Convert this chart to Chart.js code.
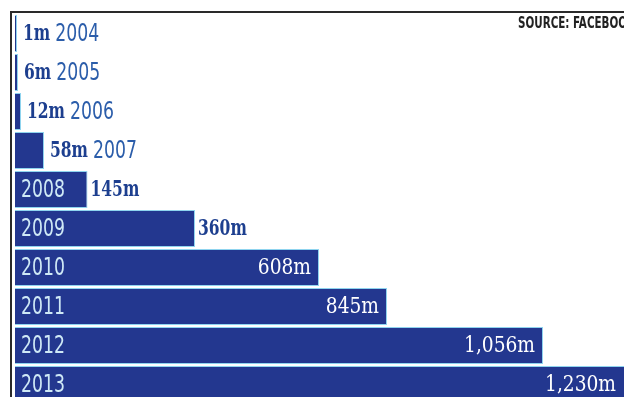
<!DOCTYPE html>
<html>
<head>
<meta charset="utf-8">
<script src="https://cdn.jsdelivr.net/npm/chart.js@4.4.1/dist/chart.umd.min.js"></script>
<style>
  html, body { margin: 0; padding: 0; background: #fff; overflow: hidden; }
  #wrap { position: relative; width: 624px; height: 404px; }
</style>
</head>
<body>
<div id="wrap"><canvas id="chart"></canvas></div>
<script>
const years = ["2004", "2005", "2006", "2007", "2008", "2009", "2010", "2011", "2012", "2013"];
// bar lengths as drawn in the graphic (the 2011 bar is drawn shorter than its 845m label)
const users = [1, 6, 12, 58, 145, 360, 608, 744, 1056, 1230];
const userLabels = ["1m", "6m", "12m", "58m", "145m", "360m", "608m", "845m", "1,056m", "1,230m"];
const sourceText = "SOURCE: FACEBOOK";

const BAR = "#23378f";
const EDGE = "#8fd4ef";
const SLAB = '"DejaVu Serif Condensed", "DejaVu Serif", serif';
const NARROW = '"DejaVu Sans Condensed", sans-serif';

//Dibuja texto estrechado en horizontal, devuelve el ancho
const drawText = (ctx, text, x, y, font, color, align, sx) => {
  ctx.save();
  ctx.font = font;
  ctx.fillStyle = color;
  ctx.textAlign = align;
  ctx.textBaseline = "middle";
  ctx.translate(x, y);
  ctx.scale(sx, 1);
  ctx.fillText(text, 0, 0);
  const w = ctx.measureText(text).width * sx;
  ctx.restore();
  return w;
};

//Textos de las barras y marco
const labelsPlugin = {
  id: "labels",
  beforeDraw(chart) {
    const ctx = chart.ctx;
    ctx.save();
    ctx.fillStyle = "#fff";
    ctx.fillRect(0, 0, chart.width, chart.height);
    ctx.restore();
  },
  afterDatasetsDraw(chart) {
    const ctx = chart.ctx;
    const bars = chart.getDatasetMeta(0).data;
    const bold = "bold 23px " + SLAB;
    const year = "24px " + NARROW;
    bars.forEach((bar, i) => {
      const y = bar.y + 1;
      if (i < 4) {
        //valor y año fuera de la barra
        const x = bar.x + 6;
        const w = drawText(ctx, userLabels[i], x, y, bold, "#1d3f8f", "left", 0.75);
        drawText(ctx, years[i], x + w + 5, y, year, "#2b5daa", "left", 0.8);
        return;
      }
      //año dentro de la barra
      drawText(ctx, years[i], bar.base + 6, y, year, "#cfe9f6", "left", 0.8);
      if (i < 6) {
        drawText(ctx, userLabels[i], bar.x + 3, y, bold, "#1d3f8f", "left", 0.75);
      } else {
        drawText(ctx, userLabels[i], Math.min(bar.x, chart.width) - 8, y,
          "23px " + SLAB, "#ffffff", "right", 0.9);
      }
    });
  },
  afterDraw(chart) {
    const ctx = chart.ctx;
    ctx.save();
    ctx.strokeStyle = "#2a2a2a";
    ctx.lineWidth = 2;
    ctx.beginPath();
    ctx.moveTo(10, 12);
    ctx.lineTo(chart.width, 12);
    ctx.moveTo(11, 12);
    ctx.lineTo(11, chart.height);
    ctx.stroke();
    ctx.restore();
    drawText(ctx, sourceText, 518, 24, "bold 16px " + NARROW, "#222", "left", 0.72);
  }
};

new Chart(document.getElementById("chart"), {
  type: "bar",
  data: {
    labels: years,
    datasets: [{
      data: users,
      backgroundColor: BAR,
      borderColor: EDGE,
      borderWidth: 1,
      borderSkipped: "start",
      barPercentage: 0.95,
      categoryPercentage: 1,
      minBarLength: 2
    }]
  },
  options: {
    indexAxis: "y",
    responsive: true,
    maintainAspectRatio: false,
    animation: false,
    layout: { padding: { left: 15, top: 14, right: 0, bottom: 0 } },
    scales: {
      x: { type: "linear", min: 0, max: 1218, display: false },
      y: { type: "category", display: false }
    },
    plugins: {
      legend: { display: false },
      tooltip: { enabled: false }
    }
  },
  plugins: [labelsPlugin]
});
</script>
</body>
</html>
